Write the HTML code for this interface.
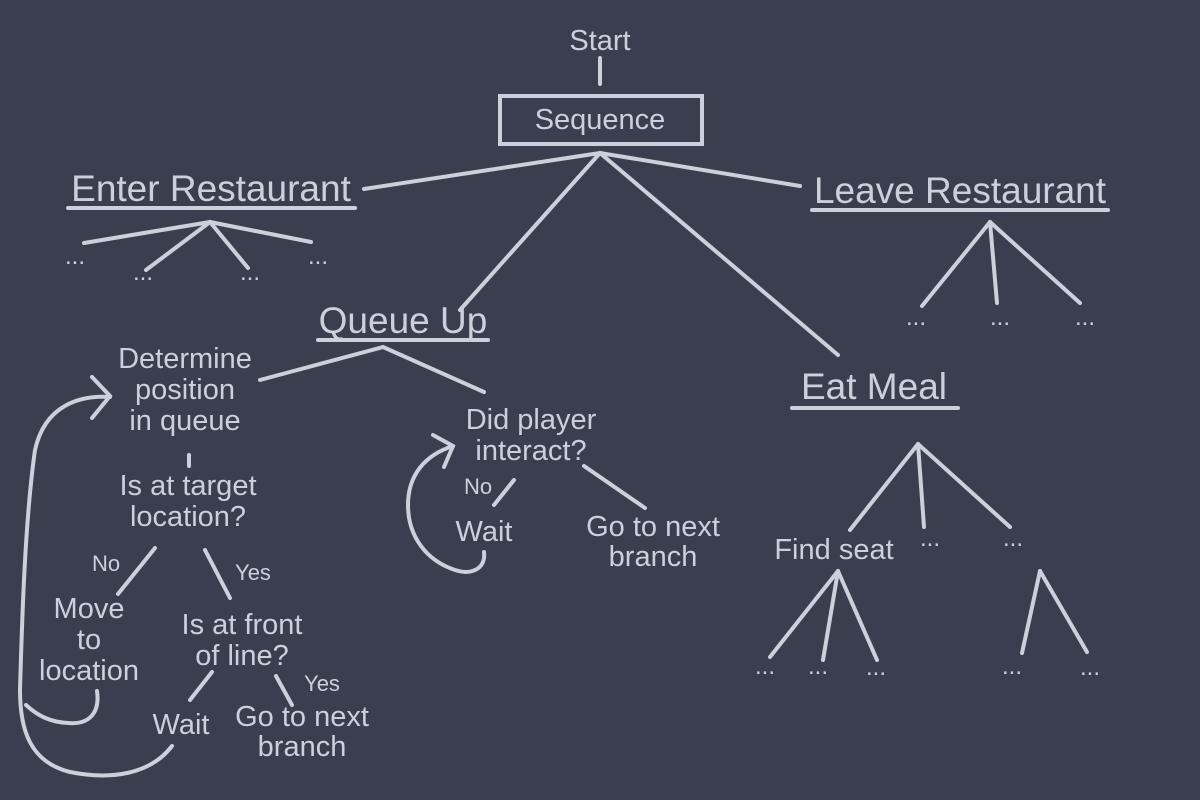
<!DOCTYPE html>
<html><head><style>
html,body{margin:0;padding:0;background:#3a3f50;}
svg{display:block}
text{font-family:"Liberation Sans",sans-serif;fill:#ccd0da;}
</style></head><body>
<svg width="1200" height="800" viewBox="0 0 1200 800">
<rect width="1200" height="800" fill="#3a3f50"/>
<g stroke="#ccd0da" stroke-width="4" stroke-linecap="round" fill="none">
<line x1="600" y1="58" x2="600" y2="84"/>
<rect x="500" y="96" width="202" height="48"/>
<line x1="600" y1="153" x2="364" y2="189"/>
<line x1="600" y1="153" x2="460" y2="310"/>
<line x1="600" y1="153" x2="838" y2="355"/>
<line x1="600" y1="153" x2="800" y2="186"/>
<line x1="68" y1="208" x2="355" y2="208"/>
<line x1="210" y1="222" x2="84" y2="243"/>
<line x1="210" y1="222" x2="146" y2="270"/>
<line x1="210" y1="222" x2="248" y2="268"/>
<line x1="210" y1="222" x2="311" y2="242"/>
<line x1="812" y1="210" x2="1108" y2="210"/>
<line x1="990" y1="222" x2="922" y2="306"/>
<line x1="990" y1="222" x2="997" y2="303"/>
<line x1="990" y1="222" x2="1080" y2="303"/>
<line x1="318" y1="340" x2="488" y2="340"/>
<line x1="383" y1="347" x2="260" y2="380"/>
<line x1="383" y1="347" x2="484" y2="392"/>
<line x1="189" y1="455" x2="189" y2="466"/>
<line x1="155" y1="548" x2="118" y2="594"/>
<line x1="205" y1="550" x2="230" y2="598"/>
<line x1="212" y1="672" x2="190" y2="700"/>
<line x1="276" y1="676" x2="292" y2="705"/>
<path d="M172,746 C150,775 110,780 70,772 C30,762 20,730 20,690 C22,620 25,520 35,450 C45,405 80,395 110,397"/>
<polyline points="92,377 110,396 92,418"/>
<path d="M97,691 C100,712 90,725 68,723 C50,722 38,716 26,705"/>
<line x1="514" y1="480" x2="494" y2="505"/>
<line x1="584" y1="466" x2="645" y2="508"/>
<path d="M484,552 C486,570 470,575 455,570 C425,560 408,535 408,505 C408,475 425,455 453,446"/>
<polyline points="433,435 453,446 444,467"/>
<line x1="792" y1="408" x2="958" y2="408"/>
<line x1="918" y1="444" x2="850" y2="530"/>
<line x1="918" y1="444" x2="924" y2="527"/>
<line x1="918" y1="444" x2="1010" y2="527"/>
<line x1="838" y1="571" x2="770" y2="657"/>
<line x1="838" y1="571" x2="823" y2="660"/>
<line x1="838" y1="571" x2="877" y2="660"/>
<line x1="1040" y1="571" x2="1022" y2="653"/>
<line x1="1040" y1="571" x2="1087" y2="652"/>
</g>
<g text-anchor="middle">
<text x="600" y="50" font-size="29">Start</text>
<text x="600" y="129" font-size="29">Sequence</text>
<text x="211" y="201" font-size="37">Enter Restaurant</text>
<text x="960" y="203" font-size="37">Leave Restaurant</text>
<text x="403" y="333" font-size="37">Queue Up</text>
<text x="874" y="399" font-size="37">Eat Meal</text>
<g font-size="29">
<text x="185" y="368">Determine</text>
<text x="185" y="399">position</text>
<text x="185" y="430">in queue</text>
<text x="188" y="495">Is at target</text>
<text x="188" y="526">location?</text>
<text x="89" y="618">Move</text>
<text x="89" y="649">to</text>
<text x="89" y="680">location</text>
<text x="242" y="634">Is at front</text>
<text x="242" y="665">of line?</text>
<text x="181" y="734">Wait</text>
<text x="302" y="726">Go to next</text>
<text x="302" y="756">branch</text>
<text x="531" y="429">Did player</text>
<text x="531" y="460">interact?</text>
<text x="484" y="541">Wait</text>
<text x="653" y="536">Go to next</text>
<text x="653" y="566">branch</text>
<text x="834" y="559">Find seat</text>
</g>
<g font-size="22">
<text x="106" y="571">No</text>
<text x="253" y="580">Yes</text>
<text x="322" y="691">Yes</text>
<text x="478" y="494">No</text>
</g>
<g font-size="24">
<text x="75" y="264">...</text><text x="143" y="280">...</text><text x="250" y="280">...</text><text x="318" y="264">...</text>
<text x="916" y="325">...</text><text x="1000" y="325">...</text><text x="1085" y="325">...</text>
<text x="930" y="546">...</text><text x="1013" y="546">...</text>
<text x="765" y="674">...</text><text x="818" y="674">...</text><text x="876" y="675">...</text>
<text x="1012" y="674">...</text><text x="1090" y="675">...</text>
</g>
</g>
</svg>
</body></html>
